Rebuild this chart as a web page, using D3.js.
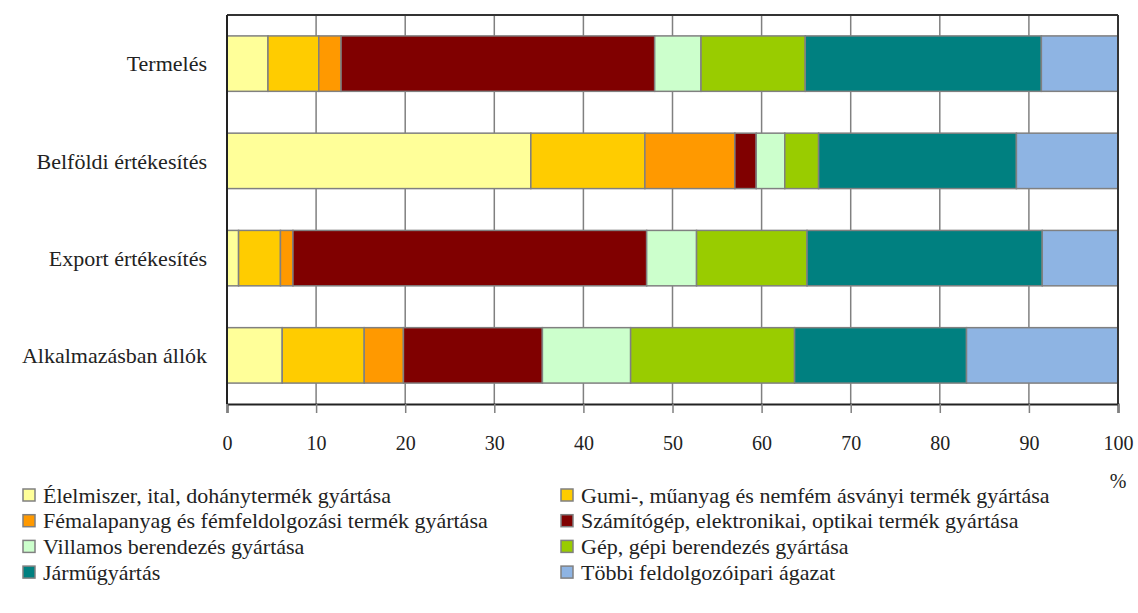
<!DOCTYPE html>
<meta charset="utf-8">
<script src="https://d3js.org/d3.v7.min.js"></script>
<style>
  body { margin: 0; background: #fff; }
</style>
<body>
<svg id="chart" width="1138" height="613"></svg>
<script>
// categories (top to bottom)
var categories = ["Termelés", "Belföldi értékesítés", "Export értékesítés", "Alkalmazásban állók"];

// industries (stack order, left to right)
var industries = [
  "Élelmiszer, ital, dohánytermék gyártása",
  "Gumi-, műanyag és nemfém ásványi termék gyártása",
  "Fémalapanyag és fémfeldolgozási termék gyártása",
  "Számítógép, elektronikai, optikai termék gyártása",
  "Villamos berendezés gyártása",
  "Gép, gépi berendezés gyártása",
  "Járműgyártás",
  "Többi feldolgozóipari ágazat"
];

var colors = ["#FFFF99", "#FFCC00", "#FF9900", "#800000", "#CCFFCC", "#99CC00", "#008080", "#8EB4E3"];

// shares in %, one array per category, in industry order
var termeles   = [4.6, 5.7, 2.5, 35.2, 5.2, 11.7, 26.5, 8.6];
var belfoldi   = [34.1, 12.8, 10.1, 2.4, 3.2, 3.8, 22.2, 11.4];
var exportErt  = [1.3, 4.7, 1.4, 39.7, 5.6, 12.4, 26.4, 8.5];
var alkalmazas = [6.2, 9.2, 4.4, 15.6, 9.9, 18.4, 19.3, 17.0];

var xTicks = [0, 10, 20, 30, 40, 50, 60, 70, 80, 90, 100];

var seriesByCat = [termeles, belfoldi, exportErt, alkalmazas];

var FONT = "Liberation Serif";
var svg = d3.select("#chart");
var mLeft = 227, mRight = 1118, mTop = 15, mBottom = 404;

var x = d3.scaleLinear().domain([0, 100]).range([mLeft, mRight]);
var y = d3.scaleBand().domain(categories).range([mTop, mBottom])
  .paddingInner(0.43).paddingOuter(0.215);

// vertical grid lines
svg.append("g")
  .selectAll("line")
  .data(xTicks.slice(1, -1))
  .enter().append("line")
    .attr("x1", d => x(d)).attr("x2", d => x(d))
    .attr("y1", mTop).attr("y2", mBottom)
    .attr("stroke", "#808080").attr("stroke-width", 1.5);

// stacked bars
var rows = categories.map(function(c, i) {
  var acc = 0;
  return seriesByCat[i].map(function(v, j) {
    var s = { cat: c, i: j, x0: acc, x1: acc + v };
    acc += v;
    return s;
  });
});

svg.append("g")
  .selectAll("g")
  .data(rows)
  .enter().append("g")
  .selectAll("rect")
  .data(d => d)
  .enter().append("rect")
    .attr("x", d => x(d.x0))
    .attr("y", d => y(d.cat))
    .attr("width", d => x(d.x1) - x(d.x0))
    .attr("height", y.bandwidth())
    .attr("fill", d => colors[d.i])
    .attr("stroke", "#808080")
    .attr("stroke-width", 1.5);

// plot border
svg.append("line").attr("x1", mLeft).attr("x2", mRight).attr("y1", mTop).attr("y2", mTop)
  .attr("stroke", "#333").attr("stroke-width", 2);
svg.append("line").attr("x1", mRight).attr("x2", mRight).attr("y1", mTop).attr("y2", mBottom)
  .attr("stroke", "#333").attr("stroke-width", 2);
svg.append("line").attr("x1", mLeft).attr("x2", mLeft).attr("y1", mTop).attr("y2", mBottom)
  .attr("stroke", "#222").attr("stroke-width", 2);

// x axis
var xAxis = d3.axisBottom(x).tickValues(xTicks).tickSize(9).tickPadding(23);
var gx = svg.append("g").attr("transform", "translate(0," + mBottom + ")").call(xAxis)
  .attr("font-family", FONT).attr("font-size", 20);
gx.select(".domain").attr("stroke", "#222").attr("stroke-width", 2);
gx.selectAll(".tick line").attr("stroke", "#808080").attr("stroke-width", 1.5);
gx.selectAll(".tick text").attr("fill", "#222");

svg.append("text").attr("x", mRight).attr("y", 488).attr("text-anchor", "middle")
  .attr("font-family", FONT).attr("font-size", 20).attr("fill", "#222").text("%");

// category labels
svg.append("g")
  .selectAll("text")
  .data(categories)
  .enter().append("text")
    .attr("x", 207)
    .attr("y", d => y(d) + y.bandwidth() / 2)
    .attr("dy", "0.35em")
    .attr("text-anchor", "end")
    .attr("font-family", FONT).attr("font-size", 22).attr("fill", "#222")
    .text(d => d);

// legend
var legend = svg.append("g")
  .selectAll("g")
  .data(industries)
  .enter().append("g")
    .attr("transform", (d, i) => "translate(" + (i % 2 ? 561 : 23) + "," + (495 + Math.floor(i / 2) * 25.7) + ")");

legend.append("rect")
  .attr("x", 0).attr("y", -6).attr("width", 12).attr("height", 12)
  .attr("fill", (d, i) => colors[i])
  .attr("stroke", "#808080").attr("stroke-width", 1.5);

legend.append("text")
  .attr("x", 20).attr("dy", "0.35em")
  .attr("font-family", FONT).attr("font-size", 22).attr("fill", "#222")
  .text(d => d);
</script>
</body>
